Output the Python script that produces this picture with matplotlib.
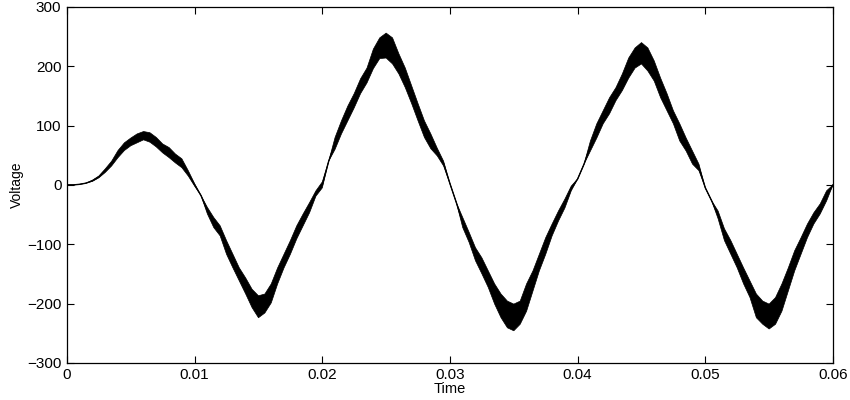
import matplotlib
matplotlib.use("Agg")
import matplotlib.pyplot as plt
import numpy as np

plt.rcParams['font.family'] = ['Liberation Sans', 'DejaVu Sans']
plt.rcParams['hatch.linewidth'] = 0.9

# Time samples (s)
time = [0.0, 0.0005, 0.001, 0.0015, 0.002, 0.0025, 0.003, 0.0035, 0.004, 0.0045,
        0.005, 0.0055, 0.006, 0.0065, 0.007, 0.0075, 0.008, 0.0085, 0.009, 0.0095,
        0.01, 0.0105, 0.011, 0.0115, 0.012, 0.0125, 0.013, 0.0135, 0.014, 0.0145,
        0.015, 0.0155, 0.016, 0.0165, 0.017, 0.0175, 0.018, 0.0185, 0.019, 0.0195,
        0.02, 0.0205, 0.021, 0.0215, 0.022, 0.0225, 0.023, 0.0235, 0.024, 0.0245,
        0.025, 0.0255, 0.026, 0.0265, 0.027, 0.0275, 0.028, 0.0285, 0.029, 0.0295,
        0.03, 0.0305, 0.031, 0.0315, 0.032, 0.0325, 0.033, 0.0335, 0.034, 0.0345,
        0.035, 0.0355, 0.036, 0.0365, 0.037, 0.0375, 0.038, 0.0385, 0.039, 0.0395,
        0.04, 0.0405, 0.041, 0.0415, 0.042, 0.0425, 0.043, 0.0435, 0.044, 0.0445,
        0.045, 0.0455, 0.046, 0.0465, 0.047, 0.0475, 0.048, 0.0485, 0.049, 0.0495,
        0.05, 0.0505, 0.051, 0.0515, 0.052, 0.0525, 0.053, 0.0535, 0.054, 0.0545,
        0.055, 0.0555, 0.056, 0.0565, 0.057, 0.0575, 0.058, 0.0585, 0.059, 0.0595,
        0.06]

# Upper envelope of the rippled voltage (V)
voltage_upper = [0, 0, 1, 3, 8, 15, 27, 40, 58, 71,
                 79, 86, 90, 88, 80, 69, 63, 52, 44, 24,
                 2, -18, -38, -55, -69, -94, -117, -140, -157, -176,
                 -187, -184, -167, -140, -117, -94, -69, -49, -30, -10,
                 5, 40, 80, 108, 133, 154, 179, 197, 229, 248,
                 256, 248, 221, 197, 167, 137, 108, 86, 62, 40,
                 2, -30, -55, -80, -106, -123, -145, -167, -184, -196,
                 -201, -196, -167, -145, -117, -89, -66, -44, -24, -2,
                 10, 35, 74, 103, 125, 147, 164, 187, 214, 231,
                 240, 231, 209, 180, 154, 125, 103, 79, 57, 35,
                 -5, -27, -44, -74, -94, -117, -140, -162, -184, -196,
                 -201, -190, -167, -140, -111, -89, -66, -47, -32, -10,
                 0]

# Lower envelope of the rippled voltage (V)
voltage_lower = [0, 0, 1, 3, 6, 12, 21, 32, 46, 58,
                 66, 71, 76, 72, 64, 54, 46, 37, 29, 15,
                 -2, -18, -49, -72, -86, -117, -140, -162, -184, -207,
                 -224, -216, -199, -167, -140, -117, -91, -69, -47, -19,
                 -5, 40, 60, 86, 108, 130, 154, 172, 196, 213,
                 214, 204, 187, 164, 137, 108, 80, 61, 49, 32,
                 2, -30, -72, -97, -128, -150, -173, -201, -224, -241,
                 -246, -235, -213, -179, -145, -117, -86, -61, -39, -10,
                 10, 35, 57, 79, 103, 120, 142, 159, 180, 197,
                 204, 192, 175, 147, 125, 103, 74, 57, 35, 24,
                 -5, -27, -57, -94, -117, -140, -167, -190, -224, -235,
                 -243, -235, -213, -179, -145, -117, -89, -66, -49, -27,
                 0]

xticks = [0, 0.01, 0.02, 0.03, 0.04, 0.05, 0.06]
xticklabels = ['0', '0.01', '0.02', '0.03', '0.04', '0.05', '0.06']
yticks = [-300, -200, -100, 0, 100, 200, 300]

t = np.array(time)
up = np.array(voltage_upper)
lo = np.array(voltage_lower)
mid = (up + lo) / 2.0

fig = plt.figure(figsize=(8.5, 4.0), dpi=100)
ax = fig.add_axes([0.0788, 0.093, 0.9012, 0.8895])

# ripple band: dense vertical strokes between the envelopes
ax.fill_between(t, lo, up, facecolor='white', hatch='|' * 30,
                edgecolor='black', linewidth=0)
ax.plot(t, up, color='black', linewidth=0.5)
ax.plot(t, lo, color='black', linewidth=0.5)
ax.plot(t, mid, color='black', linewidth=1.0)

ax.set_xlim(0, 0.06)
ax.set_ylim(-300, 300)
ax.set_xticks(xticks)
ax.set_xticklabels(xticklabels)
ax.set_yticks(yticks)
ax.tick_params(direction='in', length=5, width=0.8, top=True, right=True,
               labelsize=11, colors='black', pad=4)
for s in ax.spines.values():
    s.set_linewidth(0.9)
ax.set_xlabel('Time', fontsize=10.5, labelpad=0)
ax.set_ylabel('Voltage', fontsize=10, labelpad=2)

fig.savefig('out.png', dpi=100, facecolor='white')
